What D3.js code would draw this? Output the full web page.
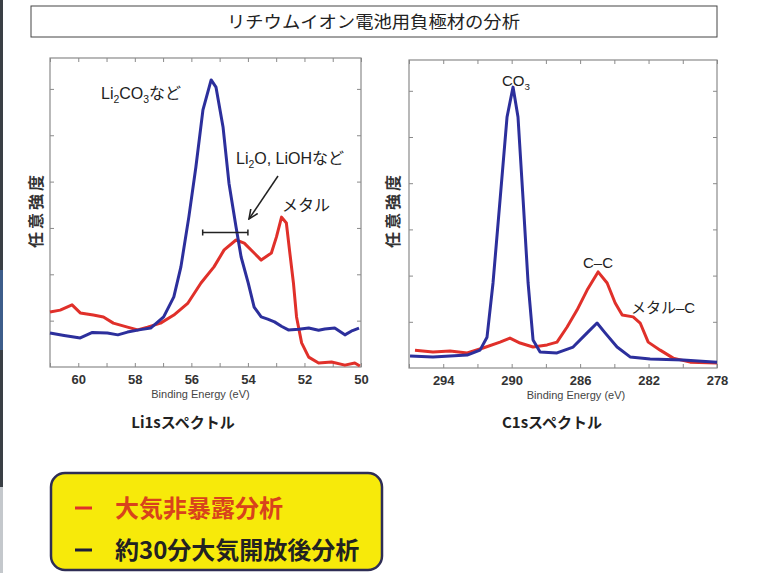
<!DOCTYPE html>
<html><head><meta charset="utf-8">
<script src="https://cdn.jsdelivr.net/npm/d3@7/dist/d3.min.js"></script>
<style>
body{margin:0;background:#fff;}
svg{display:block;}
.jp{font-family:"Noto Sans CJK JP","Noto Sans",sans-serif;}
.lat{font-family:"Liberation Sans",Arial,sans-serif;}
</style></head>
<body>
<svg id="c" width="757" height="573"></svg>
<script>
// ---- data ----
const titleText = "リチウムイオン電池用負極材の分析";
const yLabel = "任意強度";
const xLabel = "Binding Energy (eV)";
const li1sTicks = [60, 58, 56, 54, 52, 50];
const c1sTicks = [294, 290, 286, 282, 278];
const legendLabels = ["大気非暴露分析", "約30分大気開放後分析"];
const seriesColors = ["#e0302a", "#2c2f9c"];
// Li1s  [binding energy eV, intensity a.u.]
const li1sBlue = [[61,11.0],[60.5,10.2],[59.93,9.4],[59.5,11.2],[58.97,11],[58.6,10.4],[58.26,11.3],[57.8,12.1],[57.44,12.6],[56.98,16.2],[56.62,22.7],[56.37,32.4],[56.09,48.5],[55.84,64.7],[55.59,83.2],[55.3,92.9],[55.13,90.6],[54.88,77.7],[54.67,59.5],[54.42,45.3],[54.24,35.6],[53.99,27.2],[53.78,19.4],[53.53,16.2],[53.3,15.5],[53.06,14.6],[52.8,13.1],[52.57,12.0],[52.2,12.2],[51.85,12.6],[51.5,11.9],[51.28,12.3],[50.93,12.6],[50.57,10.4],[50.3,11.8],[50.07,12.6]];
const li1sRed = [[61,17.8],[60.64,18.4],[60.22,20.1],[59.93,17.5],[59.47,16.8],[59.11,16.2],[58.76,14.2],[58.26,12.9],[57.9,12],[57.55,12.9],[57.09,14.2],[56.62,16.8],[56.12,20.7],[55.66,27.2],[55.2,32.4],[54.84,37.9],[54.42,41.1],[54.13,40.1],[53.78,36.9],[53.53,34.6],[53.17,36.9],[52.99,42.1],[52.81,48.5],[52.64,46.6],[52.53,37.9],[52.39,27.2],[52.28,16.2],[52.1,7.8],[51.85,3.2],[51.5,1.3],[51.04,1.6],[50.57,0.6],[50.22,1.3],[50.04,0.3]];
// C1s
const c1sBlue = [[295.94,3.9],[294.6,3.6],[292.6,4.2],[291.85,5.8],[291.44,10],[291.09,27.6],[290.68,54.5],[290.27,81.5],[289.92,91.2],[289.63,81.5],[289.33,54.5],[289.04,27.6],[288.75,9.1],[288.34,5.2],[287.35,4.9],[286.41,6.8],[285.59,11.4],[285.01,14.6],[284.54,11.4],[283.84,6.8],[283.08,3.6],[281.91,2.9],[279.98,2.6],[278,1.9]];
const c1sRed = [[295.65,5.8],[294.6,5.2],[293.6,5.5],[292.6,4.9],[291.67,6.5],[290.68,8.4],[290.1,9.7],[289.51,8.1],[288.75,6.8],[287.93,7.5],[287.35,8.4],[286.76,13.3],[286.18,18.8],[285.59,25.3],[284.95,31.2],[284.42,27.6],[283.95,21.1],[283.54,17.2],[282.9,16.6],[282.49,14.6],[282.02,8.4],[281.32,5.8],[280.56,3.2],[279.57,1.9],[278,1.6]];

const svg = d3.select("#c");

// left edge artifact strip
svg.append("rect").attr("x",0).attr("y",0).attr("width",3).attr("height",487).attr("fill","#3a3f45");
svg.append("rect").attr("x",0).attr("y",270).attr("width",3).attr("height",80).attr("fill","#3d5d8a");
svg.append("rect").attr("x",0).attr("y",487).attr("width",3).attr("height",86).attr("fill","#c4c8cc");

// title
svg.append("rect").attr("x",31).attr("y",6).attr("width",686).attr("height",31).attr("fill","#fff").attr("stroke","#444").attr("stroke-width",1);
svg.append("text").attr("class","jp").attr("x",227).attr("y",28).attr("textLength",293).attr("lengthAdjust","spacingAndGlyphs")
  .attr("font-size",17).attr("fill","#222").text(titleText);

function panel(cfg){
  const g = svg.append("g");
  const x = d3.scaleLinear().domain(cfg.xDomain).range([cfg.left, cfg.right]);
  const y = d3.scaleLinear().domain([0,100]).range([cfg.bottom, cfg.top]);
  g.append("rect").attr("x",cfg.left).attr("y",cfg.top).attr("width",cfg.right-cfg.left).attr("height",cfg.bottom-cfg.top)
    .attr("fill","#fff").attr("stroke","#8a8a8a").attr("stroke-width",1.2);
  const minor = d3.range(Math.ceil(Math.min(...cfg.xDomain)), Math.floor(Math.max(...cfg.xDomain))+1, cfg.minorStep);
  const bAx = d3.axisTop(x).tickValues(minor).tickSize(4).tickFormat("");
  g.append("g").attr("transform",`translate(0,${cfg.bottom})`).call(bAx).call(s=>{s.select(".domain").remove();s.selectAll("line").attr("stroke","#8a8a8a");});
  const tAx = d3.axisBottom(x).tickValues(minor).tickSize(4).tickFormat("");
  g.append("g").attr("transform",`translate(0,${cfg.top})`).call(tAx).call(s=>{s.select(".domain").remove();s.selectAll("line").attr("stroke","#8a8a8a");});
  const yt = [15,30,45,60,75,90];
  g.append("g").attr("transform",`translate(${cfg.left},0)`).call(d3.axisRight(y).tickValues(yt).tickSize(4).tickFormat("")).call(s=>{s.select(".domain").remove();s.selectAll("line").attr("stroke","#8a8a8a");});
  g.append("g").attr("transform",`translate(${cfg.right},0)`).call(d3.axisLeft(y).tickValues(yt).tickSize(4).tickFormat("")).call(s=>{s.select(".domain").remove();s.selectAll("line").attr("stroke","#8a8a8a");});
  const lab = d3.axisBottom(x).tickValues(cfg.ticks).tickSize(0).tickPadding(8);
  g.append("g").attr("transform",`translate(0,${cfg.bottom})`).call(lab).call(s=>{
    s.select(".domain").remove();
    s.selectAll("text").attr("class","lat").attr("font-size",13).attr("font-weight","bold").attr("fill","#333");
  });
  const line = d3.line().x(d=>x(d[0])).y(d=>y(d[1])).curve(d3.curveLinear);
  g.append("path").datum(cfg.red).attr("d",line).attr("fill","none").attr("stroke",seriesColors[0]).attr("stroke-width",3).attr("stroke-linejoin","round");
  g.append("path").datum(cfg.blue).attr("d",line).attr("fill","none").attr("stroke",seriesColors[1]).attr("stroke-width",3).attr("stroke-linejoin","round");
  g.append("text").attr("class","lat").attr("x",(cfg.left+cfg.right)/2 + cfg.xLabDx).attr("y",cfg.bottom+31).attr("text-anchor","middle")
    .attr("font-size",11).attr("fill","#444").text(xLabel);
  g.append("text").attr("class","jp").attr("transform",`translate(${cfg.yLabX},210) rotate(-90)`).attr("text-anchor","middle")
    .attr("font-size",16).attr("font-weight","bold").attr("letter-spacing",3).attr("fill","#333").text(yLabel);
  g.append("text").attr("class","jp").attr("x",cfg.capX).attr("y",428).attr("text-anchor","middle")
    .attr("font-size",15).attr("font-weight","bold").attr("fill","#222").text(cfg.caption);
  return {g,x,y};
}

const L = panel({xDomain:[61,50], left:50, right:361, top:58, bottom:367, ticks:li1sTicks, minorStep:1,
  red:li1sRed, blue:li1sBlue, xLabDx:-5, yLabX:42, capX:183, caption:"Li1sスペクトル"});
const R = panel({xDomain:[296,278], left:409, right:717, top:60, bottom:368, ticks:c1sTicks, minorStep:2,
  red:c1sRed, blue:c1sBlue, xLabDx:13, yLabX:399, capX:552, caption:"C1sスペクトル"});

function chem(g, x, y, parts, anchor, fs){
  fs = fs || 16;
  const t = g.append("text").attr("x",x).attr("y",y).attr("text-anchor",anchor||"start")
    .attr("font-size",fs).attr("fill","#222").attr("font-family",'"Liberation Sans","Noto Sans CJK JP",sans-serif');
  parts.forEach(p=>{
    const ts = t.append("tspan").text(p.t);
    if(p.sub){ ts.attr("font-size",fs*0.65).attr("dy",4); }
    else if(p.after){ ts.attr("dy",-4); }
  });
  return t;
}
chem(L.g, 101, 99, [{t:"Li"},{t:"2",sub:1},{t:"CO",after:1},{t:"3",sub:1},{t:"など",after:1}]);
chem(L.g, 236, 164, [{t:"Li"},{t:"2",sub:1},{t:"O, LiOHなど",after:1}]);
chem(L.g, 282, 211, [{t:"メタル"}]);
const bx0 = L.x(55.6), bx1 = L.x(54.0), by = L.y(43.5);
L.g.append("path").attr("d",`M${bx0},${by-3}V${by+3}M${bx0},${by}H${bx1}M${bx1},${by-3}V${by+3}`).attr("stroke","#222").attr("stroke-width",1.5).attr("fill","none");
svg.append("defs").append("marker").attr("id","ah").attr("viewBox","0 0 10 10").attr("refX",9).attr("refY",5)
  .attr("markerWidth",7).attr("markerHeight",7).attr("orient","auto")
  .append("path").attr("d","M0,1L9,5L0,9").attr("fill","none").attr("stroke","#222").attr("stroke-width",1.5);
L.g.append("line").attr("x1",278).attr("y1",176).attr("x2",249).attr("y2",219).attr("stroke","#222").attr("stroke-width",1.5).attr("marker-end","url(#ah)");

chem(R.g, 502, 86, [{t:"CO"},{t:"3",sub:1}], "start", 15);
chem(R.g, 598, 268, [{t:"C–C"}], "middle", 15);
chem(R.g, 631, 313, [{t:"メタル–C"}], "start", 15);

// legend
const lg = svg.append("g");
lg.append("rect").attr("x",51).attr("y",473).attr("width",331).attr("height",97).attr("rx",14)
  .attr("fill","#f7ea0a").attr("stroke","#2e2d55").attr("stroke-width",2.5);
const lgText = ["#d8421c","#222"];
legendLabels.forEach((t,i)=>{
  const yy = 517 + i*42;
  lg.append("line").attr("x1",75).attr("x2",92).attr("y1",yy-9).attr("y2",yy-9).attr("stroke", i===0?seriesColors[0]:"#1c1c3a").attr("stroke-width",3);
  lg.append("text").attr("class","jp").attr("x",115).attr("y",yy).attr("font-size",24).attr("font-weight","bold")
    .attr("fill",lgText[i]).text(t);
});
</script>
</body></html>
